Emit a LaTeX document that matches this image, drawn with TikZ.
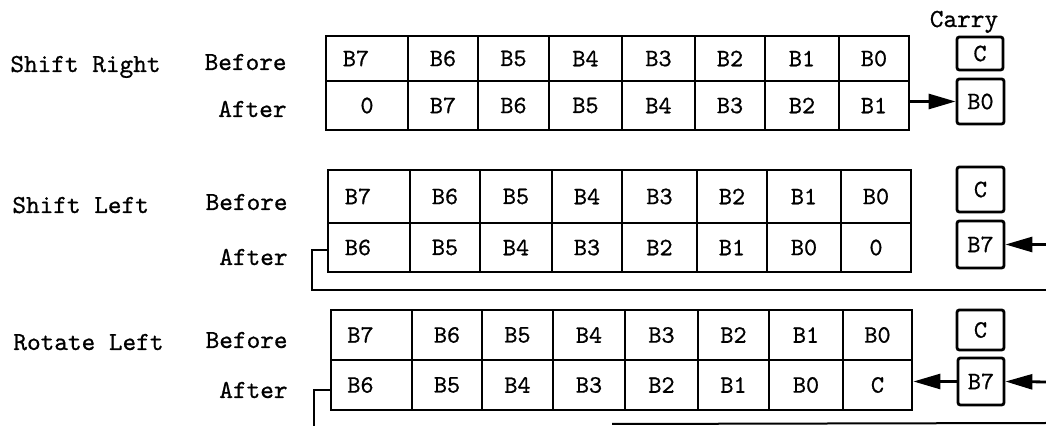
\documentclass[tikz,border=0pt]{standalone}
\usepackage{fontspec}
\newfontfamily\twfont{lmmono10-regular}[Extension=.otf, FakeBold=0.7]
\usetikzlibrary{arrows.meta}
\newcommand\lft[1]{#1\hspace*{11pt}}
\newcommand\regcell[6]{\node[cell, minimum width={(#3-#2)*0.5pt}, minimum height={(#5-#4)*0.5pt}] (#1) at ({(#2+#3)/2},{(#4+#5)/2}) {#6};}
\begin{document}
\begin{tikzpicture}[x=0.5pt,y=-0.5pt,
  cell/.style={draw, line width=1.4pt, inner sep=0pt, font=\twfont\fontsize{12.5}{14}\selectfont},
  cbox/.style={cell, rounded corners=1.2pt},
  lab/.style={inner sep=0pt, font=\twfont\fontsize{13}{15}\selectfont},
  arr/.style={line width=1.4pt, -{Triangle[length=13.5pt,width=7.5pt]}},
  link/.style={line width=1pt}]
\useasboundingbox (0,0) rectangle (1046,426);
% ---------- Shift Right ----------
\node[lab, anchor=base west] (t1) at (10,72) {Shift Right};
\node[lab, anchor=base east] (t1b) at (287,70) {Before};
\node[lab, anchor=base east] (t1a) at (287,117) {After};
\node[lab, anchor=base] (carry) at (964,27) {Carry};
\foreach \i/\xa/\xb/\ta/\tb in {0/326/408/\lft{B7}/0, 1/408/478/B6/B7, 2/478/549/B5/B6, 3/549/622/B4/B5,
  4/622/695/B3/B4, 5/695/765/B2/B3, 6/765/839/B1/B2, 7/839/909/B0/B1}{
  \regcell{a1-\i}{\xa}{\xb}{36}{81}{\ta}
  \regcell{b1-\i}{\xa}{\xb}{81}{130}{\tb}
}
\node[cbox, minimum width=23pt, minimum height=16.5pt] (c1a) at (980,53.5) {C};
\node[cbox, minimum width=23.5pt, minimum height=22.5pt] (c1b) at (980.5,101.5) {B0};
\draw[arr] (b1-7.east |- c1b.west) -- (c1b.west);
% ---------- Shift Left ----------
\node[lab, anchor=base west] (t2) at (12,213) {Shift Left};
\node[lab, anchor=base east] (t2b) at (288,210) {Before};
\node[lab, anchor=base east] (t2a) at (288,265) {After};
\foreach \i/\xa/\xb/\ta/\tb in {0/328/410/\lft{B7}/\lft{B6}, 1/410/480/B6/B5, 2/480/552/B5/B4, 3/552/622/B4/B3,
  4/622/697/B3/B2, 5/697/767/B2/B1, 6/767/841/B1/B0, 7/841/911/B0/0}{
  \regcell{a2-\i}{\xa}{\xb}{170}{223}{\ta}
  \regcell{b2-\i}{\xa}{\xb}{223}{272}{\tb}
}
\node[cbox, minimum width=23.5pt, minimum height=22.5pt] (c2a) at (980.5,189.5) {C};
\node[cbox, minimum width=23.5pt, minimum height=23.5pt] (c2b) at (980.5,244.5) {B7};
\coordinate (in2) at (1048,244.5);
\coordinate (out2) at (1048,290);
\draw[arr] (in2) -- (c2b.east);
\draw[link] ([yshift=-1.5pt]b2-0.west) -- ++(-15,0) |- (out2);
% ---------- Rotate Left ----------
\node[lab, anchor=base west] (t3) at (13,350) {Rotate Left};
\node[lab, anchor=base east] (t3b) at (288,348) {Before};
\node[lab, anchor=base east] (t3a) at (288,398) {After};
\foreach \i/\xa/\xb/\ta/\tb in {0/331/412/\lft{B7}/\lft{B6}, 1/412/482/B6/B5, 2/482/553/B5/B4, 3/553/625/B4/B3,
  4/625/698/B3/B2, 5/698/769/B2/B1, 6/769/843/B1/B0, 7/843/912/B0/C}{
  \regcell{a3-\i}{\xa}{\xb}{310}{360}{\ta}
  \regcell{b3-\i}{\xa}{\xb}{360}{410}{\tb}
}
\node[cbox, minimum width=23.5pt, minimum height=20pt] (c3a) at (980.5,330) {C};
\node[cbox, minimum width=23pt, minimum height=23.5pt] (c3b) at (981,381.5) {B7};
\coordinate (in3) at (1048,382);
\coordinate (down3) at (314,430);
\coordinate (low3a) at (612,424);
\coordinate (low3b) at (1048,423);
\draw[arr] (in3) -- (c3b.east);
\draw[arr] (c3b.west) -- (b3-7.east |- c3b.west);
\draw[link] ([yshift=-2.5pt]b3-0.west) -| (down3);
\draw[link] (low3a) -- (low3b);
\end{tikzpicture}
\end{document}
